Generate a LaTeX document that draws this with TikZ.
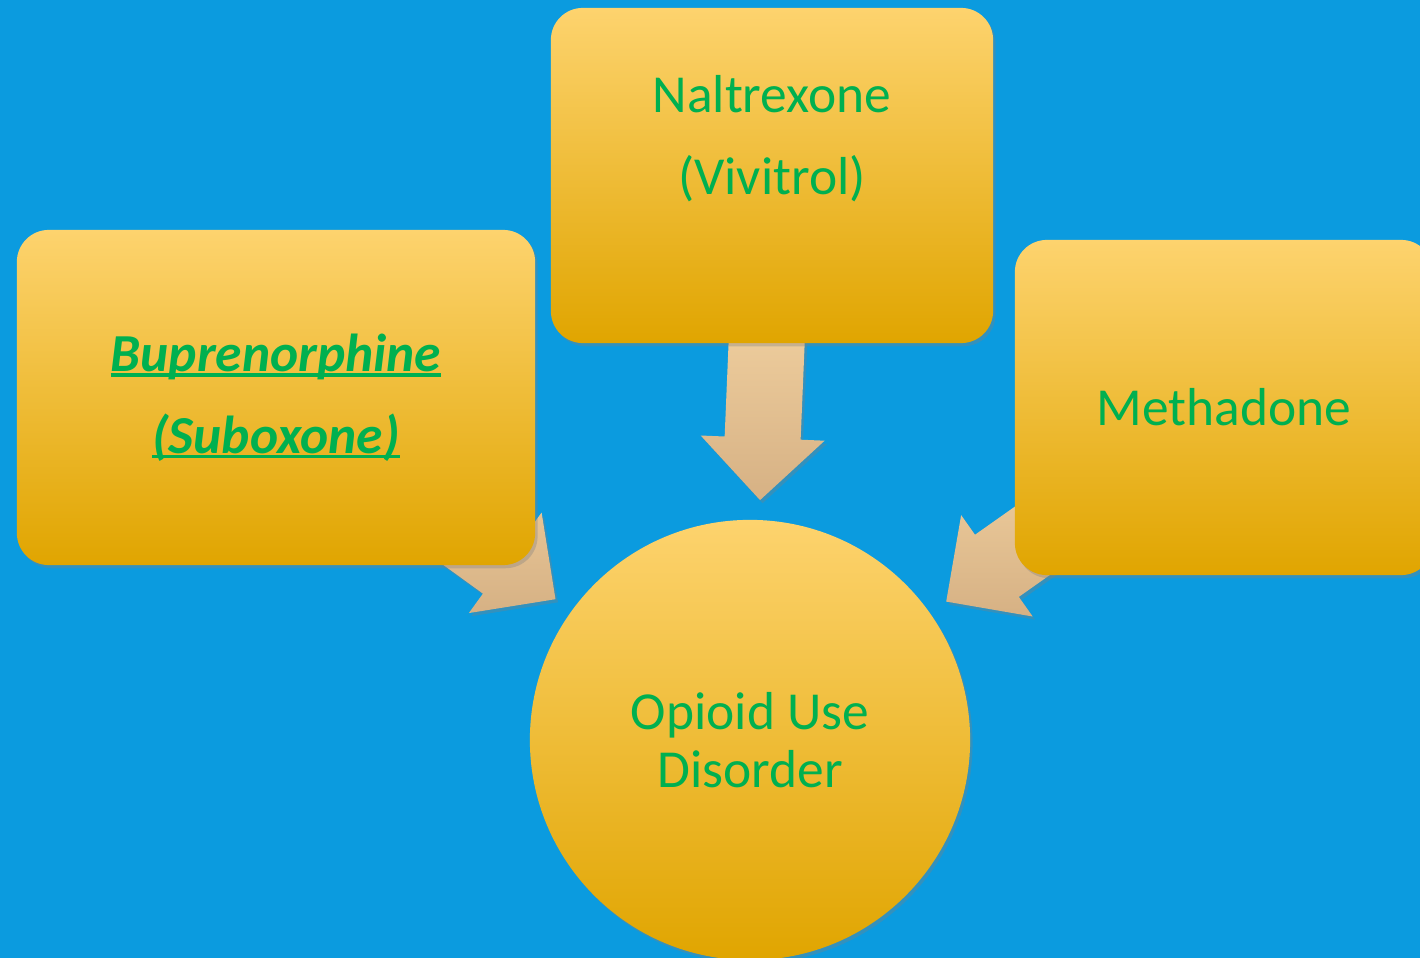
\documentclass[tikz,border=0pt]{standalone}
\usepackage{fontspec}
\setmainfont{Carlito}
\usepackage{tikz}
\usetikzlibrary{calc,shadows}

\definecolor{slideblue}{RGB}{11,155,223}
\definecolor{boxtop}{RGB}{253,211,110}
\definecolor{boxmid}{RGB}{242,183,0}
\definecolor{boxbot}{RGB}{224,165,0}
\definecolor{arrtop}{RGB}{238,205,157}
\definecolor{arrbot}{RGB}{214,177,132}
\definecolor{drugtext}{RGB}{0,176,80}

\pgfdeclarelayer{bg}
\pgfsetlayers{bg,main}

% underline that crosses the descenders
\newcommand{\medul}[1]{\setbox0\hbox{#1}\rlap{\rule[-1.5pt]{\wd0}{0.9pt}}\box0}

% block arrow pointing at the circle, #1 = angle
\newcommand{\blockarrow}[1]{%
  \coordinate (tip) at ($(oud.center)+(#1:2.4cm)$);
  \coordinate (tail) at ($(oud.center)+(#1:4.12cm)$);
  \coordinate (base) at ($(tip)!0.62cm!(tail)$);
  \path[blockarr] ($(tail)!0.38cm!90:(tip)$) -- ($(base)!0.38cm!90:(tip)$)
    -- ($(base)!0.62cm!90:(tip)$) -- (tip) -- ($(base)!0.62cm!-90:(tip)$)
    -- ($(base)!0.38cm!-90:(tip)$) -- ($(tail)!0.38cm!-90:(tip)$) -- cycle;}

\tikzset{
  soft/.style={drop shadow={opacity=0.35,shadow xshift=0.7pt,shadow yshift=-0.9pt}},
  medbox/.style={rounded corners=0.32cm, top color=boxtop, middle color=boxmid,
    bottom color=boxbot, soft, text=drugtext, align=center,
    minimum height=3.35cm, font=\fontsize{15.2}{23.3}\selectfont},
  oudcircle/.style={circle, top color=boxtop, middle color=boxmid,
    bottom color=boxbot, soft, text=drugtext, align=center,
    minimum size=4.4cm, font=\fontsize{15.2}{16.5}\selectfont},
  blockarr/.style={top color=arrtop, bottom color=arrbot, soft},
}

\begin{document}
\begin{tikzpicture}[x=0.01cm,y=-0.01cm]
\useasboundingbox (0,0) rectangle (1420,958);

\node[medbox, minimum width=4.42cm] (nal) at (772,175.5) {Naltrexone\\(Vivitrol)\\\mbox{}};
\node[medbox, minimum width=5.18cm] (bup) at (276,397.5)
  {\medul{\textbf{\textit{Buprenorphine}}}\\\medul{\textbf{\textit{(Suboxone)}}}};
\node[medbox, minimum width=4.18cm] (met) at (1224,407.5) {Methadone};
\node[oudcircle] (oud) at (750,740) {Opioid Use\\Disorder};

\begin{pgfonlayer}{bg}
\fill[slideblue] (0,0) rectangle (1420,958);
\blockarrow{87.6}
\blockarrow{144.1}
\blockarrow{35.2}
\end{pgfonlayer}
\end{tikzpicture}
\end{document}
